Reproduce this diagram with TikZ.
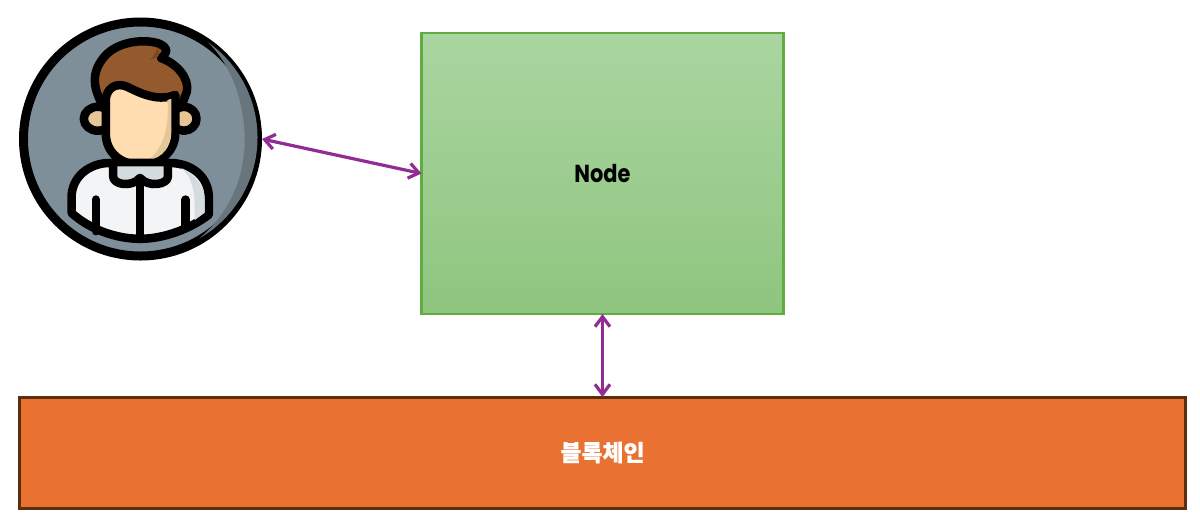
\documentclass[tikz,border=0pt]{standalone}
\usepackage{fontspec}
\newfontfamily\nodefont[FakeStretch=0.85]{Poppins}
\newfontfamily\krfont[BoldFeatures={FakeBold=0.4}]{Noto Sans CJK KR}
\usetikzlibrary{arrows.meta}
\usetikzlibrary{positioning}
\definecolor{linkpurple}{HTML}{922B93}
\definecolor{avatargrey}{HTML}{7E8F99}
\definecolor{avatardark}{HTML}{69757C}
\definecolor{hairbrown}{HTML}{945A2E}
\definecolor{hairdark}{HTML}{7F4A22}
\definecolor{skinlight}{HTML}{FFDDB0}
\definecolor{skindark}{HTML}{E5C697}
\definecolor{shirtlight}{HTML}{F3F4F5}
\definecolor{shirtdark}{HTML}{D5DCE0}
\tikzset{
	nodebox/.style={rectangle, draw={rgb,255:red,95;green,173;blue,65}, line width=0.25mm, outer sep=0pt,
		top color={rgb,255:red,170;green,213;blue,160}, bottom color={rgb,255:red,143;green,197;blue,127},
		minimum width=3.62cm, minimum height=2.81cm, inner sep=0pt},
	chainbox/.style={rectangle, draw={rgb,255:red,92;green,46;blue,16}, line width=0.3mm, outer sep=0pt,
		fill={rgb,255:red,233;green,113;blue,50}, minimum width=11.66cm, minimum height=1.11cm, inner sep=0pt},
	userbox/.style={circle, draw=black, line width=0.09cm, fill=avatargrey, outer sep=0.045cm,
		minimum size=2.34cm, inner sep=0pt},
	outline/.style={draw=black, line width=0.085cm, line join=round, line cap=round}
}
\begin{document}
\begin{tikzpicture}
	\useasboundingbox (0,0) rectangle (12,-5.22);

	\node[nodebox] (node) at (6.025,-1.735) {\nodefont\bfseries\fontsize{7}{9}\selectfont Node};
	\node[chainbox, text=white] (chain) at (6.025,-4.525) {\krfont\bfseries\fontsize{6.5}{8}\selectfont 블록체인};
	\node[userbox] (user) at (1.405,-1.39) {};

	% avatar, in units of the zoomed picture
	\begin{scope}[x=0.003333cm, y=-0.003333cm]
		\fill[avatardark] (625,127) arc[start angle=-55, end angle=60, radius=350] .. controls (680,650) and (742,540) .. (735,400) .. controls (730,290) and (690,190) .. cycle;
		\fill[skindark, outline] (294,357) ellipse (42 and 36);
		\fill[skindark, outline] (553,357) ellipse (38 and 36);
		\fill[hairbrown, outline] (305,310) .. controls (280,260) and (275,220) .. (310,175) .. controls (340,135) and (400,120) .. (450,125) .. controls (475,128) and (495,135) .. (500,150) .. controls (500,160) and (490,170) .. (485,175) .. controls (530,190) and (570,235) .. (562,275) -- (545,320) -- cycle;
		\fill[hairdark] (450,180) .. controls (462,170) and (470,155) .. (472,142) .. controls (480,148) and (482,160) .. (474,172) -- cycle;
		\fill[skinlight, outline] (318,300) .. controls (320,265) and (350,245) .. (385,262) .. controls (430,285) and (480,305) .. (527,285) -- (527,400) .. controls (527,460) and (475,495) .. (420,495) .. controls (365,495) and (318,460) .. (318,400) -- cycle;
		\fill[skindark] (503,301) .. controls (510,370) and (495,445) .. (445,482) .. controls (490,475) and (514,440) .. (515,400) -- (515,297) -- cycle;
		\fill[shirtlight, outline] (215,640) -- (215,595) .. controls (215,530) and (270,490) .. (330,490) -- (510,490) .. controls (575,490) and (628,530) .. (628,595) -- (628,645) .. controls (570,690) and (490,718) .. (421,718) .. controls (350,718) and (270,690) .. (215,640) -- cycle;
		\fill[shirtdark] (545,505) .. controls (590,525) and (615,560) .. (615,600) -- (615,640) -- (585,662) -- (585,610) .. controls (585,565) and (570,525) .. (545,505) -- cycle;
		\fill[shirtdark, outline] (340,500) -- (340,530) .. controls (340,555) and (395,565) .. (421,535) .. controls (447,565) and (505,555) .. (505,530) -- (505,500);
		\draw[outline] (421,540) -- (421,715);
		\draw[outline] (288,600) -- (288,695);
		\draw[outline] (558,600) -- (558,680);
	\end{scope}

	\begin{scope}[every edge/.style={draw=linkpurple, line width=0.032cm, {Straight Barb[length=1mm, width=1.5mm]}-{Straight Barb[length=1mm, width=1.5mm]}}]
		\path (user.east) edge (node.west);
		\path (node.south) edge (chain.north);
	\end{scope}
\end{tikzpicture}
\end{document}
